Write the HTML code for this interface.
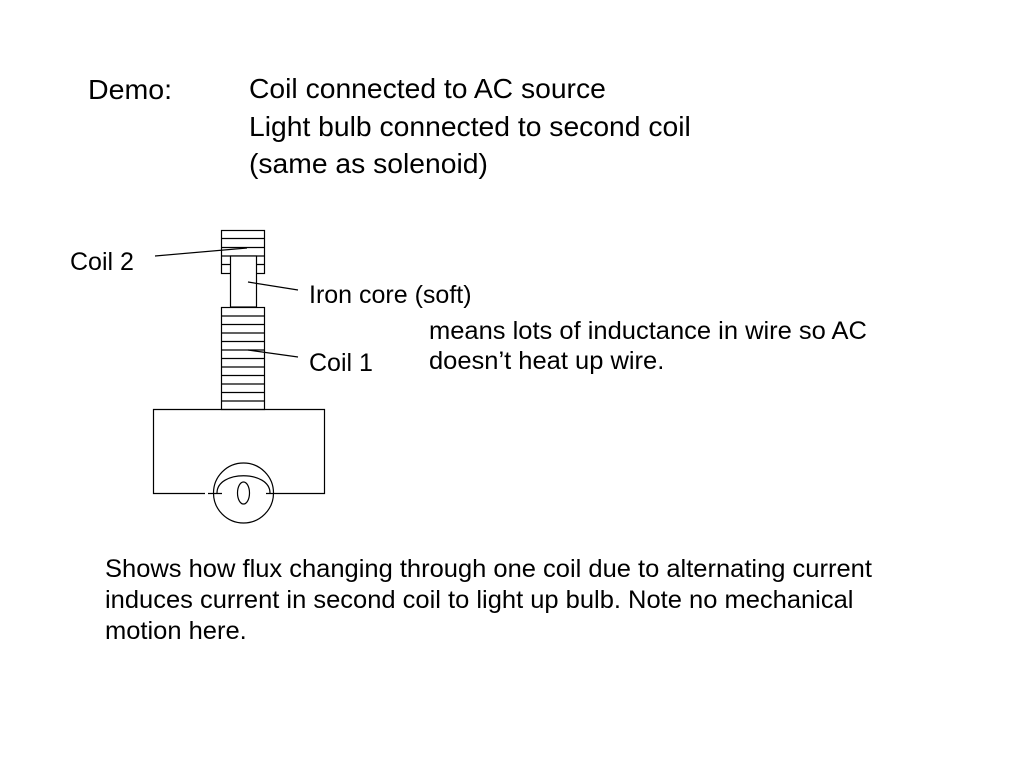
<!DOCTYPE html>
<html><head><style>
body{margin:0;width:1024px;height:768px;background:#fff;position:relative;font-family:"Liberation Sans",sans-serif;color:#000;overflow:hidden}
.t{position:absolute;white-space:nowrap;transform-origin:0 0}
</style></head><body>
<div class="t" style="left:88px;top:74px;font-size:28px;transform:scaleX(1.02)">Demo:</div>
<div class="t" style="left:249px;top:70px;font-size:28px;line-height:37.5px;transform:scaleX(1.01)">Coil connected to AC source<br>Light bulb connected to second coil<br>(same as solenoid)</div>
<div class="t" style="left:70px;top:248px;font-size:25px">Coil 2</div>
<div class="t" style="left:309px;top:281px;font-size:25px">Iron core (soft)</div>
<div class="t" style="left:309px;top:349px;font-size:25px">Coil 1</div>
<div class="t" style="left:429px;top:316px;font-size:25px;line-height:30px;transform:scaleX(1.02)">means lots of inductance in wire so AC<br>doesn’t heat up wire.</div>
<div class="t" style="left:105px;top:554px;font-size:25px;line-height:31px;transform:scaleX(1.02)">Shows how flux changing through one coil due to alternating current<br>induces current in second coil to light up bulb. Note no mechanical<br>motion here.</div>
<svg width="1024" height="768" style="position:absolute;left:0;top:0" fill="none" stroke="#000" stroke-width="1.2">
<rect x="221.5" y="230.5" width="43" height="43"/>
<line x1="221" y1="238.5" x2="265" y2="238.5"/><line x1="221" y1="247.5" x2="265" y2="247.5"/><line x1="221" y1="256" x2="265" y2="256"/><line x1="221" y1="264.5" x2="265" y2="264.5"/>
<rect x="230.5" y="256" width="26" height="51" fill="#fff"/>
<rect x="221.5" y="307.5" width="43" height="102"/>
<g>
<line x1="221" y1="316" x2="265" y2="316"/><line x1="221" y1="324.5" x2="265" y2="324.5"/><line x1="221" y1="333" x2="265" y2="333"/><line x1="221" y1="341.5" x2="265" y2="341.5"/><line x1="221" y1="350" x2="265" y2="350"/><line x1="221" y1="358.5" x2="265" y2="358.5"/><line x1="221" y1="367" x2="265" y2="367"/><line x1="221" y1="375.5" x2="265" y2="375.5"/><line x1="221" y1="384" x2="265" y2="384"/><line x1="221" y1="392.5" x2="265" y2="392.5"/><line x1="221" y1="401" x2="265" y2="401"/>
</g>
<path d="M205 493.5 H153.5 V409.5 H324.5 V493.5 H280"/>
<circle cx="243.5" cy="493" r="30"/>
<path d="M208 493.5 H222 M266 493.5 H280"/>
<path d="M217 493 C217 470 270 470 270 493"/>
<ellipse cx="243.5" cy="493" rx="6" ry="11"/>
<line x1="155" y1="256" x2="247" y2="248"/>
<line x1="248" y1="282" x2="298" y2="290"/>
<line x1="248" y1="350" x2="298" y2="357"/>
</svg>
</body></html>
